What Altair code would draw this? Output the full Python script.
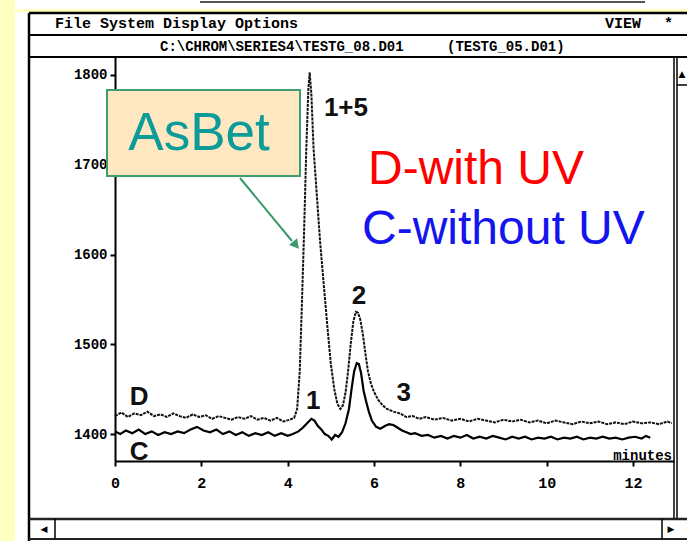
import altair as alt
import pandas as pd

# ---------------- data ----------------
# Trace D (with UV) : time in minutes, detector signal
d_time = [0.0, 0.15, 0.3, 0.45, 0.6, 0.75, 0.9, 1.05, 1.2, 1.35, 1.5, 1.65, 1.8, 1.95,
          2.1, 2.25, 2.4, 2.55, 2.7, 2.85, 3.0, 3.15, 3.3, 3.45, 3.6, 3.75, 3.9, 4.05,
          4.15, 4.22, 4.28, 4.33, 4.38, 4.43, 4.48, 4.51, 4.55, 4.6, 4.67, 4.75, 4.83,
          4.92, 5.0, 5.08, 5.15, 5.22, 5.28, 5.34, 5.4, 5.46, 5.52, 5.58, 5.63, 5.68,
          5.74, 5.8, 5.86, 5.93, 6.0, 6.1, 6.2, 6.3, 6.45, 6.6, 6.75, 6.9, 7.05, 7.2,
          7.4, 7.6, 7.8, 8.0, 8.2, 8.4, 8.6, 8.8, 9.0, 9.2, 9.4, 9.6, 9.8, 10.0, 10.2,
          10.4, 10.6, 10.8, 11.0, 11.2, 11.4, 11.6, 11.8, 12.0, 12.2, 12.4, 12.6, 12.8, 12.9]
d_signal = [1420, 1424, 1419, 1423, 1421, 1425, 1420, 1422, 1419, 1423, 1420, 1418, 1422, 1419,
            1421, 1417, 1420, 1418, 1416, 1419, 1417, 1420, 1416, 1418, 1415, 1418, 1414, 1416,
            1418, 1428, 1470, 1545, 1625, 1715, 1785, 1803, 1778, 1718, 1670, 1615, 1570,
            1520, 1478, 1450, 1434, 1428, 1432, 1446, 1470, 1500, 1525, 1536, 1535, 1528,
            1512, 1490, 1470, 1456, 1447, 1438, 1432, 1428, 1425, 1423, 1419, 1420, 1417, 1419,
            1416, 1418, 1415, 1417, 1414, 1417, 1415, 1413, 1416, 1414, 1416, 1413, 1415, 1412, 1415,
            1413, 1411, 1414, 1412, 1414, 1411, 1413, 1411, 1414, 1412, 1413, 1411, 1414, 1412]

# Trace C (without UV)
c_time = [0.0, 0.12, 0.25, 0.4, 0.55, 0.7, 0.85, 1.0, 1.15, 1.3, 1.45, 1.6, 1.75, 1.9, 2.05,
          2.2, 2.35, 2.5, 2.65, 2.8, 2.95, 3.1, 3.25, 3.4, 3.55, 3.7, 3.85, 4.0, 4.12, 4.25,
          4.35, 4.45, 4.55, 4.62, 4.7, 4.78, 4.86, 4.94, 5.02, 5.1, 5.18, 5.26, 5.34, 5.42,
          5.48, 5.54, 5.6, 5.65, 5.7, 5.76, 5.82, 5.88, 5.95, 6.05, 6.15, 6.25, 6.35, 6.45,
          6.55, 6.65, 6.75, 6.85, 6.95, 7.1, 7.25, 7.4, 7.55, 7.7, 7.85, 8.0, 8.15, 8.3, 8.45,
          8.6, 8.75, 8.9, 9.05, 9.2, 9.35, 9.5, 9.65, 9.8, 9.95, 10.1, 10.25, 10.4, 10.55,
          10.7, 10.85, 11.0, 11.15, 11.3, 11.45, 11.6, 11.75, 11.9, 12.05, 12.2, 12.3, 12.4]
c_signal = [1403, 1400, 1404, 1401, 1405, 1400, 1403, 1399, 1402, 1400, 1403, 1401, 1405, 1408, 1404,
            1402, 1405, 1400, 1403, 1399, 1402, 1398, 1401, 1399, 1402, 1398, 1401, 1398, 1400, 1403,
            1407, 1412, 1417, 1415, 1409, 1405, 1400, 1398, 1394, 1399, 1397, 1402, 1412, 1428,
            1450, 1470, 1479, 1478, 1468, 1448, 1436, 1425, 1415, 1408, 1406, 1409, 1411, 1410,
            1407, 1404, 1402, 1400, 1401, 1398, 1399, 1396, 1398, 1395, 1398, 1396, 1399, 1395, 1397,
            1395, 1398, 1396, 1394, 1397, 1395, 1397, 1394, 1396, 1395, 1397, 1394, 1396, 1395,
            1397, 1394, 1396, 1395, 1397, 1395, 1396, 1394, 1396, 1397, 1395, 1398, 1396]

peak_labels = ["1+5", "2", "1", "3", "D", "C"]
peak_time = [5.35, 5.65, 4.59, 6.69, 0.56, 0.56]
peak_signal = [1763, 1554, 1437, 1446, 1441, 1380]

x_ticks = [0, 2, 4, 6, 8, 10, 12]
y_ticks = [1400, 1500, 1600, 1700, 1800]

# ---------------- layout ----------------
OX, OY = 115, 57          # plot origin in the page
W, H = 559, 404           # plot area

MONO = "Liberation Mono"
SANS = "Liberation Sans"

xs = alt.Scale(domain=[0, 12.95], nice=False, zero=False)
ys = alt.Scale(domain=[1370, 1820], nice=False, zero=False)

xaxis = alt.Axis(values=x_ticks, title=None, grid=False, format="d",
                 labelFont=MONO, labelFontWeight="bold", labelFontSize=15, labelColor="black",
                 tickColor="black", tickSize=5, tickWidth=2, domainColor="black", domainWidth=2,
                 labelPadding=9, labelFlush=False, labelOverlap=False)
yaxis = alt.Axis(values=y_ticks, title=None, grid=False, format="d",
                 labelFont=MONO, labelFontWeight="bold", labelFontSize=14, labelColor="black",
                 tickColor="black", tickSize=5, tickWidth=2, domainColor="black", domainWidth=2,
                 labelPadding=3, labelFlush=False, labelOverlap=False)

ONE = pd.DataFrame({"k": [0]})


def rect_layer(x1, y1, x2, y2, **kw):
    return alt.Chart(ONE).mark_rect(**kw).encode(
        x=alt.value(x1 - OX), x2=alt.value(x2 - OX),
        y=alt.value(y1 - OY), y2=alt.value(y2 - OY))


def rule_layer(x1, y1, x2, y2, w, c):
    return alt.Chart(ONE).mark_rule(strokeWidth=w, color=c).encode(
        x=alt.value(x1 - OX), x2=alt.value(x2 - OX),
        y=alt.value(y1 - OY), y2=alt.value(y2 - OY))


def text_layer(x, y, txt, font, size, color, align="left", weight="normal"):
    return alt.Chart(ONE).mark_text(font=font, fontSize=size, color=color, align=align,
                                    baseline="middle", fontWeight=weight, text=txt).encode(
        x=alt.value(x - OX), y=alt.value(y - OY))


# yellow slide background strips around the white screenshot
layers = [rect_layer(0, 0, 15, 541, color="#FFFFC0"),
          rect_layer(15, 9, 687, 12, color="#FFFFC0")]

# window chrome rules (page pixels)
chrome = [
    (200, 2, 645, 2, 2, "#555555"),
    (29, 13, 687, 13, 2.5, "black"),
    (29, 13, 29, 541, 2.5, "black"),
    (29, 35, 687, 35, 2, "black"),
    (29, 57, 687, 57, 2, "black"),
    (674, 57, 674, 519, 1.5, "black"),
    (677, 57, 677, 519, 1.5, "black"),
    (677, 85, 687, 85, 1.5, "black"),
    (29, 519, 687, 519, 2.5, "#222222"),
    (29, 539, 687, 539, 2, "#222222"),
    (55, 519, 55, 539, 1.5, "black"),
    (662, 519, 662, 539, 1.5, "black"),
]
layers += [rule_layer(*c) for c in chrome]

layers += [
    text_layer(55, 23, "File System Display Options", MONO, 15, "black", weight="bold"),
    text_layer(605, 23, "VIEW", MONO, 15, "black", weight="bold"),
    text_layer(664, 23, "*", MONO, 15, "black", weight="bold"),
    text_layer(160, 47, "C:\\CHROM\\SERIES4\\TESTG_08.D01", MONO, 14, "black", weight="bold"),
    text_layer(447, 47, "(TESTG_05.D01)", MONO, 14, "black", weight="bold"),
    text_layer(44, 529, "◀", "DejaVu Sans", 9, "black", align="center"),
    text_layer(671, 529, "▶", "DejaVu Sans", 9, "black", align="center"),
    text_layer(682, 74, "▲", "DejaVu Sans", 9, "black", align="center"),
]

# data traces
dfD = pd.DataFrame({"t": d_time, "v": d_signal})
dfC = pd.DataFrame({"t": c_time, "v": c_signal})
d_line = alt.Chart(dfD).mark_line(strokeDash=[3, 1], strokeWidth=2, color="#111111").encode(
    x=alt.X("t:Q", scale=xs, axis=xaxis), y=alt.Y("v:Q", scale=ys, axis=yaxis))
c_line = alt.Chart(dfC).mark_line(strokeWidth=2.2, color="black").encode(
    x=alt.X("t:Q", scale=xs), y=alt.Y("v:Q", scale=ys))

dfL = pd.DataFrame({"t": peak_time, "v": peak_signal, "lab": peak_labels})
labels = alt.Chart(dfL).mark_text(font=SANS, fontSize=26, fontWeight="bold", color="#111111",
                                  align="center", baseline="middle").encode(
    x=alt.X("t:Q", scale=xs), y=alt.Y("v:Q", scale=ys), text="lab:N")

layers += [d_line, c_line, labels,
           text_layer(672, 456, "minutes", MONO, 14, "black", align="right", weight="bold")]

# annotations
layers += [
    rect_layer(107, 90, 300, 176, fill="#FFE8C1", stroke="#3E9E6E", strokeWidth=2),
    text_layer(199, 134, "AsBet", SANS, 53, "#0B9C9A", align="center"),
    rule_layer(240, 178, 292, 241, 2, "#3A9A6A"),
    alt.Chart(ONE).mark_point(shape="triangle", filled=True, size=110, color="#3A9A6A",
                              opacity=1, angle=140).encode(
        x=alt.value(295 - OX), y=alt.value(244 - OY)),
    text_layer(368, 170, "D-with UV", SANS, 48, "#FF0000"),
    text_layer(362, 230, "C-without UV", SANS, 48, "#1414EE"),
]

chart = alt.layer(*layers).properties(
    width=W, height=H,
    background="white",
    padding={"left": OX, "top": OY, "right": 687 - OX - W, "bottom": 541 - OY - H},
    autosize=alt.AutoSizeParams(type="none"),
).configure_view(stroke=None)

chart.save("out.html", embed_options={"renderer": "svg", "actions": False})
